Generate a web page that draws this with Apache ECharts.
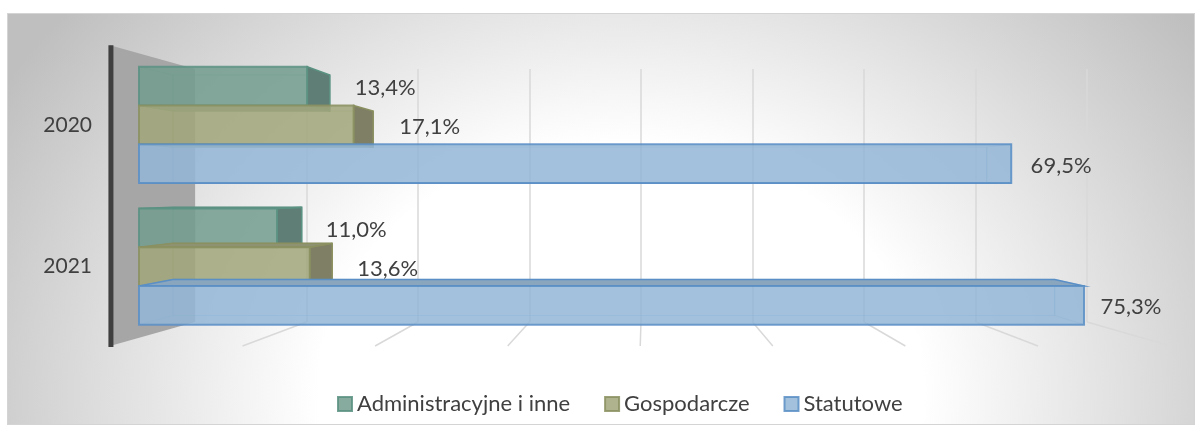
<!DOCTYPE html>
<html>
<head>
<meta charset="utf-8">
<script src="https://cdn.jsdelivr.net/npm/echarts@6/dist/echarts.min.js"></script>
<style>
  html, body { margin: 0; padding: 0; background: #fff; }
  #frame {
    position: absolute; left: 7px; top: 13px; width: 1188px; height: 412px;
    box-sizing: border-box; border: 1px solid #d4d4d4;
    background: radial-gradient(ellipse 720px 600px at 613px 380px, #ffffff 0%, #ffffff 42%, #bfbfbf 100%);
  }
  #main { position: absolute; left: 0; top: 0; width: 1200px; height: 432px; }
</style>
</head>
<body>
<div id="frame"></div>
<div id="main"></div>
<script>
// dane
const categories = ["2020", "2021"];
const seriesNames = ["Administracyjne i inne", "Gospodarcze", "Statutowe"];
const adminValues = [13.4, 11.0];
const gospValues = [17.1, 13.6];
const statValues = [69.5, 75.3];
const wallTicks = [10, 20, 30, 40, 50, 60, 70, 80];

const FONT = "Lato, 'Noto Sans', sans-serif";
const TEXT = "#404040";

// kolory 3D (przód, krawędź, bok, góra)
const palette = [
	{ front: "#729c8e", stroke: "#5b9282", side: "#5f7e75", top: "#6d8f85" },
	{ front: "#a1a67a", stroke: "#8b9060", side: "#7e7f64", top: "#8f9270" },
	{ front: "#93b6d6", stroke: "#5a8fc6", side: "#7f9ab3", top: "#8aa6bf" }
];

// perspektywa: tył słupka zbiega do punktu (VX, VY)
const VX = 646, VY = 188, DEPTH = 0.933;
const toBack = p => [VX + (p[0] - VX) * DEPTH, VY + (p[1] - VY) * DEPTH];
// ściana tylna -> przednia krawędź podłogi
const FX = 645, FY = 195, FLOOR = 0.841;
const toFront = p => [FX + (p[0] - FX) / FLOOR, FY + (p[1] - FY) / FLOOR];

const fmt = v => v.toFixed(1).replace(".", ",") + "%";

function poly(points, style) {
	return { type: "polygon", shape: { points: points }, style: style };
}

function barRender(idx) {
	return function (params, api) {
		const v = api.value(0);
		const cat = api.value(1);
		const c0 = api.coord([0, cat]);
		const c1 = api.coord([v, cat]);
		const h = api.size([0, 1])[1] * 0.273;
		const yc = c0[1] + (idx - 1) * h;
		const yt = yc - h / 2, yb = yc + h / 2;
		const F = [[c0[0], yt], [c1[0], yt], [c1[0], yb], [c0[0], yb]];
		const B = F.map(toBack);
		const p = palette[idx];
		const edge = { fill: "none", stroke: p.stroke, lineWidth: 1, opacity: 0.35 };
		const children = [];
		// ukryte krawędzie (widoczne przez szkło)
		children.push(poly(B, edge));
		children.push(poly([F[0], B[0], B[3], F[3]], edge));
		// bok prawy
		if (B[1][0] > F[1][0]) {
			children.push(poly([F[1], B[1], B[2], F[2]], { fill: p.side, stroke: p.stroke, lineWidth: 1.5 }));
		} else {
			children.push(poly([F[1], B[1], B[2], F[2]], edge));
		}
		// góra / dół
		if (B[0][1] < F[0][1]) {
			children.push(poly([F[0], F[1], B[1], B[0]], { fill: p.top, stroke: p.stroke, lineWidth: 1.5 }));
		}
		if (B[3][1] > F[3][1]) {
			children.push(poly([F[3], F[2], B[2], B[3]], { fill: p.top, stroke: p.stroke, lineWidth: 1 }));
		}
		// przód
		children.push({
			type: "rect",
			shape: { x: F[0][0], y: yt, width: F[1][0] - F[0][0], height: h },
			style: { fill: p.front, opacity: 0.85, stroke: p.stroke, lineWidth: 2 }
		});
		// etykieta
		const lp = [VX + (c1[0] - VX) * 0.96 + 34, yc + 2];
		children.push({
			type: "text",
			x: lp[0], y: lp[1],
			style: { text: fmt(v), fill: TEXT, fontSize: 22, fontFamily: FONT, align: "left", verticalAlign: "middle" }
		});
		return { type: "group", children: children };
	};
}

function wallRender(params, api) {
	const bt = api.coord([0, 1]);
	const bb = api.coord([0, 0]);
	const ft = toFront(bt);
	const fb = toFront(bb);
	return {
		type: "group",
		children: [
			poly([ft, bt, bb, fb], { fill: "#a6a6a6" }),
			{ type: "line", shape: { x1: ft[0] + 1, y1: ft[1], x2: fb[0] + 1, y2: fb[1] + 1 }, style: { stroke: "#3f3f3f", lineWidth: 5 } }
		]
	};
}

function floorRender(params, api) {
	const b = api.coord([api.value(0), 0]);
	const f = toFront(b);
	return { type: "line", shape: { x1: b[0], y1: b[1], x2: f[0], y2: f[1] }, style: { stroke: "#d9d9d9", lineWidth: 1.5 } };
}

const valuesBySeries = [adminValues, gospValues, statValues];

const chart = echarts.init(document.getElementById("main"));
const option = {
	animation: false,
	legend: {
		left: 332,
		top: 388,
		itemWidth: 14,
		itemHeight: 14,
		itemGap: 34,
		textStyle: { color: TEXT, fontSize: 22, fontFamily: FONT },
		data: seriesNames.map((n, i) => ({
			name: n,
			icon: "rect",
			itemStyle: { color: palette[i].front, opacity: 0.85, borderColor: palette[i].stroke, borderWidth: 2 }
		}))
	},
	grid: [
		{ left: 139, right: 57, top: 54, bottom: 94.5 },
		{ left: 195, right: 113, top: 69, bottom: 110 }
	],
	xAxis: [
		{ gridIndex: 0, type: "value", min: 0, max: 80, show: false },
		{
			gridIndex: 1, type: "value", min: 0, max: 80, interval: 10,
			axisLine: { show: false }, axisTick: { show: false }, axisLabel: { show: false },
			splitLine: { show: true, lineStyle: { color: "#d9d9d9", width: 1.5 } }
		}
	],
	yAxis: [
		{
			gridIndex: 0, type: "category", inverse: true, data: categories,
			axisLine: { show: false }, axisTick: { show: false },
			axisLabel: { margin: 47, color: TEXT, fontSize: 21, fontFamily: FONT }
		},
		{ gridIndex: 1, type: "value", min: 0, max: 1, show: false }
	],
	series: [
		{
			type: "custom", name: "floor", xAxisIndex: 1, yAxisIndex: 1, z: 1, silent: true,
			data: wallTicks.map(t => [t]), renderItem: floorRender, encode: { x: 0 }
		},
		{
			type: "custom", name: "wall", xAxisIndex: 1, yAxisIndex: 1, z: 1, silent: true,
			data: [[0]], renderItem: wallRender, encode: { x: 0 }
		}
	].concat(seriesNames.map((n, i) => ({
		type: "custom",
		name: n,
		xAxisIndex: 0,
		yAxisIndex: 0,
		z: 3,
		clip: false,
		itemStyle: { color: palette[i].front, borderColor: palette[i].stroke },
		encode: { x: 0, y: 1 },
		data: valuesBySeries[i].map((v, c) => [v, c]),
		renderItem: barRender(i)
	})))
};
chart.setOption(option);
</script>
</body>
</html>
